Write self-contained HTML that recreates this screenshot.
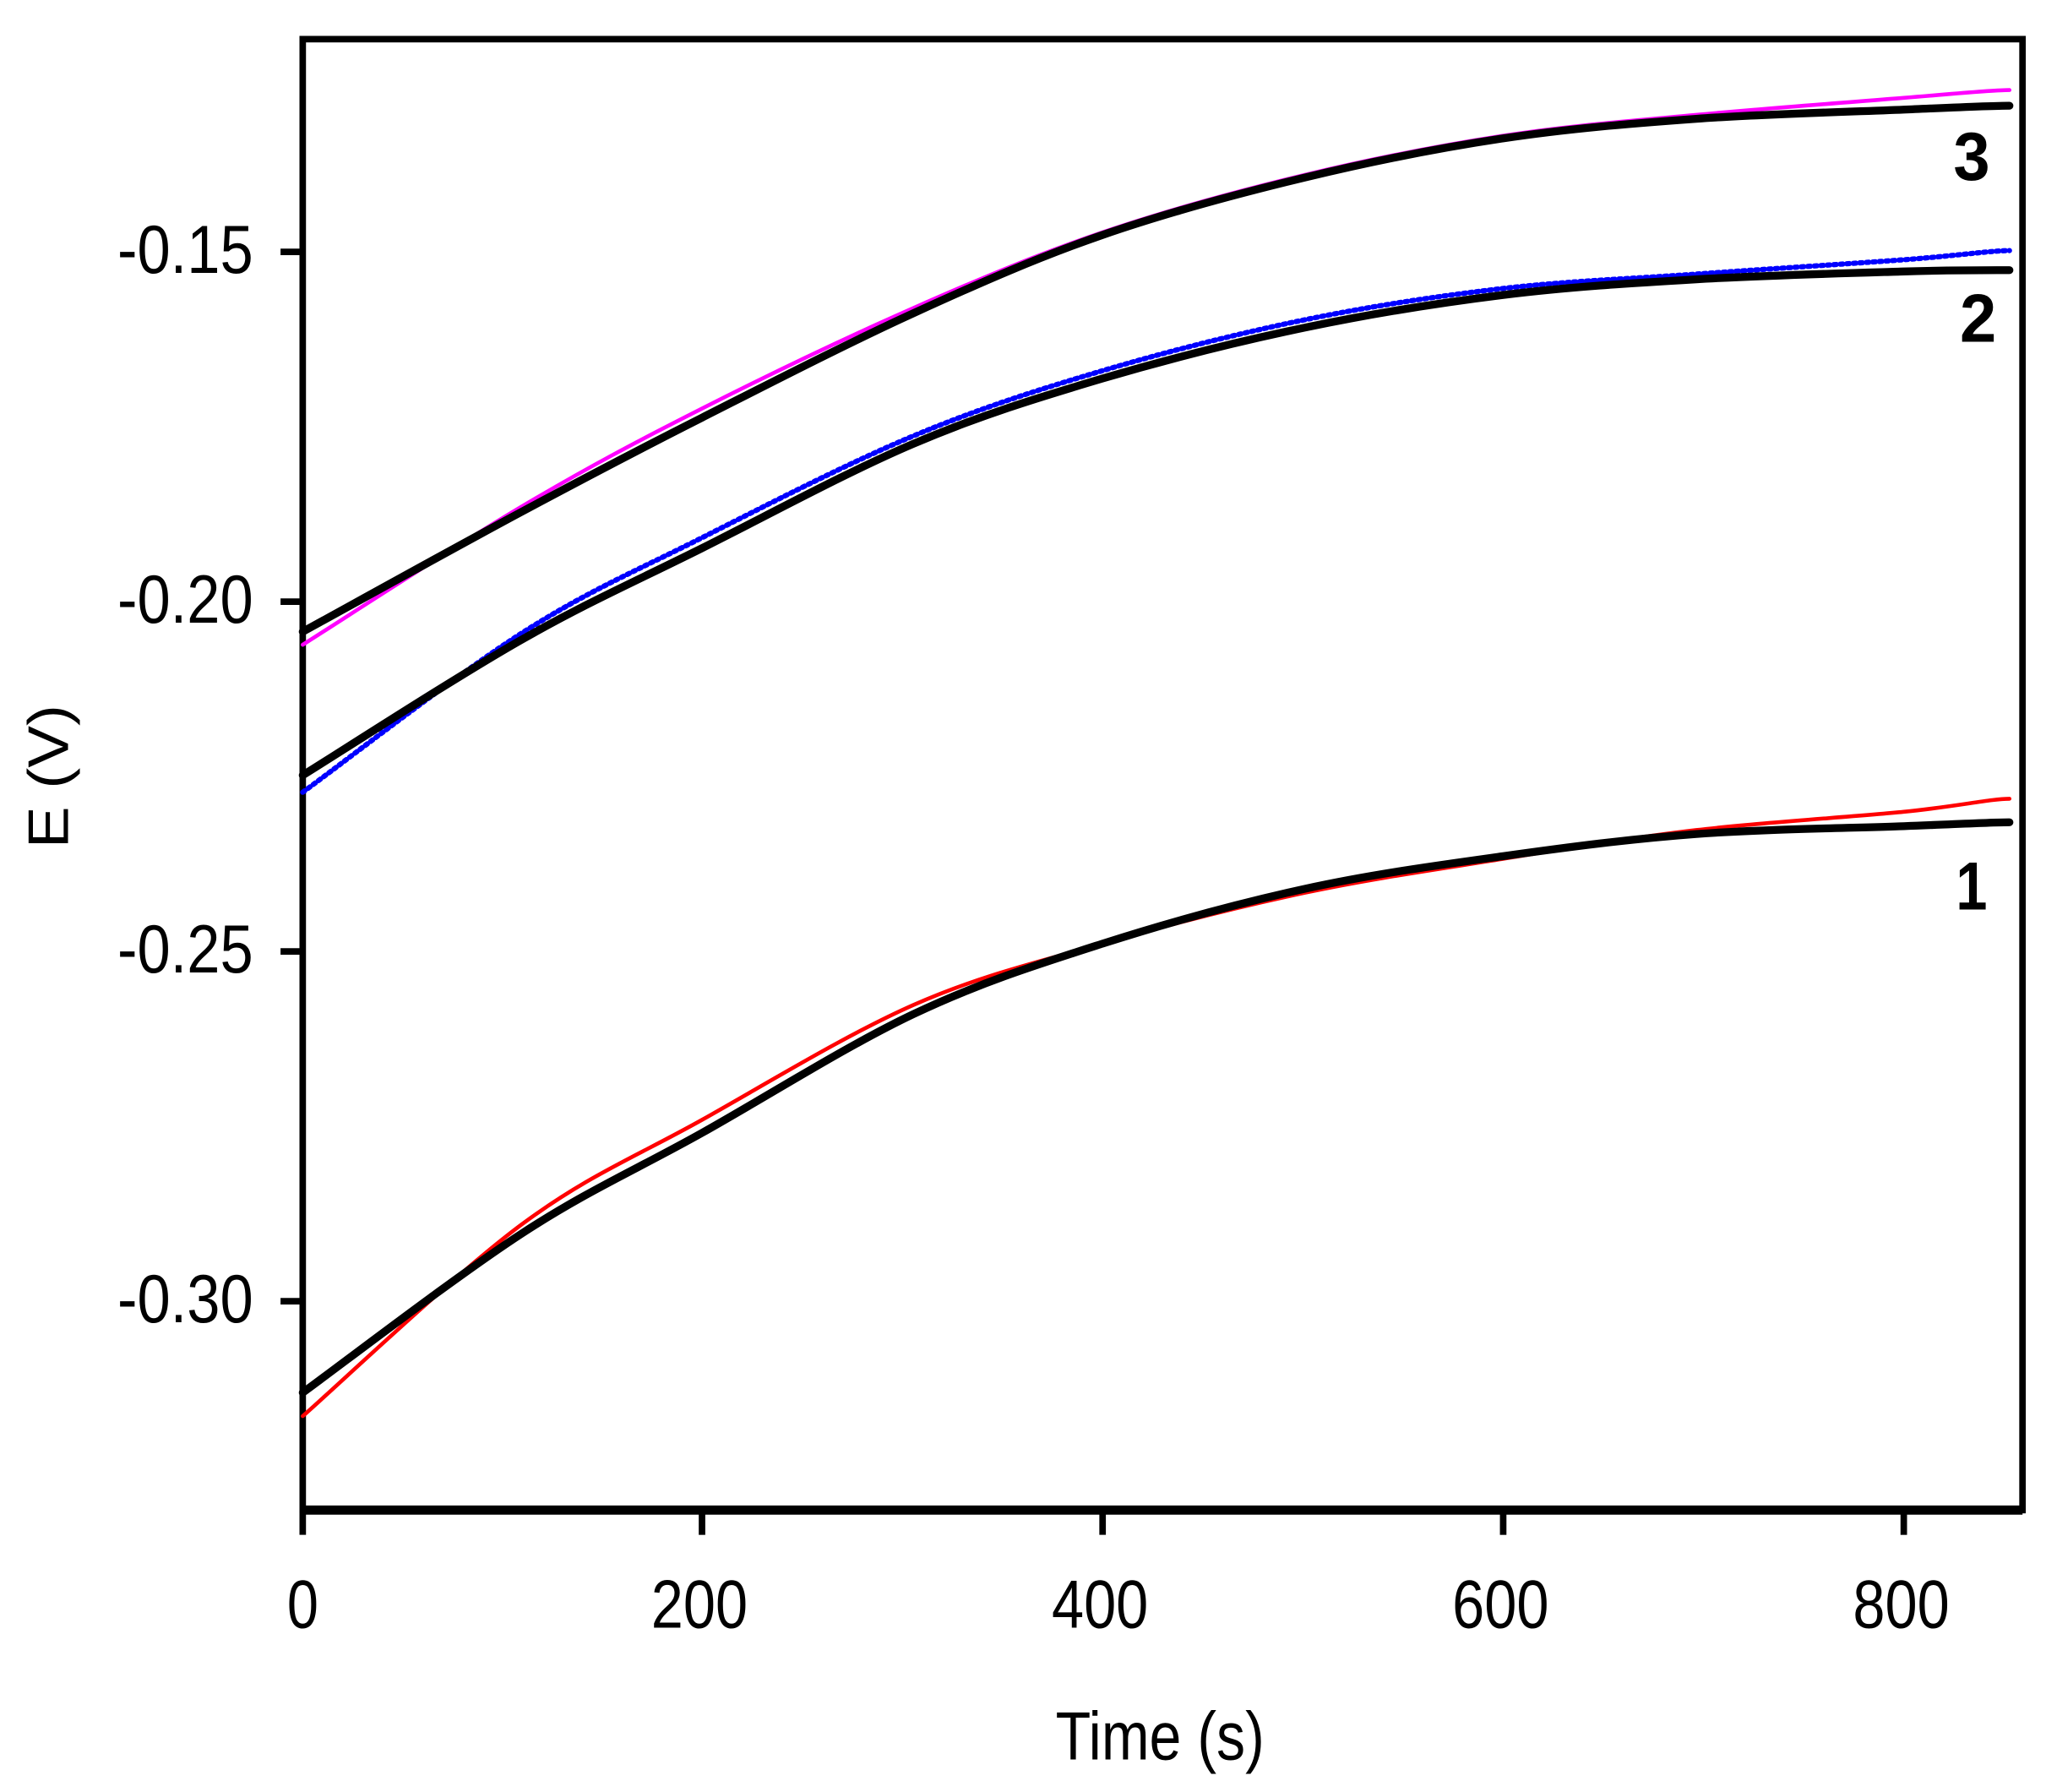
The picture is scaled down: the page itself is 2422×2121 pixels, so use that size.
<!DOCTYPE html>
<html><head><meta charset="utf-8"><style>html,body{margin:0;padding:0;background:#fff}svg{display:block}</style></head>
<body>
<svg width="2422" height="2121" viewBox="0 0 1568 1373" preserveAspectRatio="none" xmlns="http://www.w3.org/2000/svg" font-family="Liberation Sans, sans-serif">
<rect width="1568" height="1373" fill="#fff"/>
<rect x="232" y="30" width="1318" height="1127" fill="none" stroke="#000" stroke-width="5"/>
<line x1="232" y1="1157" x2="1550" y2="1157" stroke="#000" stroke-width="7"/>
<g stroke="#000" stroke-width="5">
<line x1="215" y1="193" x2="232" y2="193"/>
<line x1="215" y1="461" x2="232" y2="461"/>
<line x1="215" y1="729" x2="232" y2="729"/>
<line x1="215" y1="997" x2="232" y2="997"/>
<line x1="232" y1="1157" x2="232" y2="1176"/>
<line x1="538" y1="1157" x2="538" y2="1176"/>
<line x1="845" y1="1157" x2="845" y2="1176"/>
<line x1="1152" y1="1157" x2="1152" y2="1176"/>
<line x1="1459" y1="1157" x2="1459" y2="1176"/>
</g>
<g font-size="52" fill="#000" text-anchor="end">
<text x="194" y="209" textLength="104" lengthAdjust="spacingAndGlyphs">-0.15</text>
<text x="194" y="477" textLength="104" lengthAdjust="spacingAndGlyphs">-0.20</text>
<text x="194" y="745" textLength="104" lengthAdjust="spacingAndGlyphs">-0.25</text>
<text x="194" y="1013" textLength="104" lengthAdjust="spacingAndGlyphs">-0.30</text>
</g>
<g font-size="52" fill="#000" text-anchor="middle">
<text x="232" y="1247" textLength="24" lengthAdjust="spacingAndGlyphs">0</text>
<text x="536" y="1247" textLength="74" lengthAdjust="spacingAndGlyphs">200</text>
<text x="843" y="1247" textLength="74" lengthAdjust="spacingAndGlyphs">400</text>
<text x="1150" y="1247" textLength="74" lengthAdjust="spacingAndGlyphs">600</text>
<text x="1457" y="1247" textLength="74" lengthAdjust="spacingAndGlyphs">800</text>
<text x="889" y="1348" textLength="160" lengthAdjust="spacingAndGlyphs">Time (s)</text>
</g>
<text transform="translate(52,595) rotate(-90)" font-size="44" text-anchor="middle" textLength="110" lengthAdjust="spacingAndGlyphs">E (V)</text>
<g fill="none" stroke-linejoin="round" stroke-linecap="round">
<path stroke="#ff00ff" stroke-width="3" d="M232,494 C260,476.3 349,418.2 400,388 C451,357.8 488,338.3 538,313 C588,287.7 649,258.5 700,236 C751,213.5 795,195 845,178 C895,161 949,146.3 1000,134 C1051,121.7 1102,111.7 1152,104 C1202,96.3 1249,92.8 1300,88 C1351,83.2 1419,78.2 1459,75 C1499,71.8 1526,69 1540,69"/>
<path stroke="#0000ff" stroke-width="4" stroke-dasharray="2,3" d="M232,607 C260,586.7 349,517.5 400,485 C451,452.5 488,437.2 538,412 C588,386.8 649,355.3 700,334 C751,312.7 795,298.8 845,284 C895,269.2 949,255.5 1000,245 C1051,234.5 1102,226.8 1152,221 C1202,215.2 1249,213.7 1300,210 C1351,206.3 1419,202 1459,199 C1499,196 1526,192 1540,192"/>
<path stroke="#ff0000" stroke-width="3" d="M232,1085 C260,1060.5 349,975.8 400,938 C451,900.2 488,886 538,858 C588,830 649,792.5 700,770 C751,747.5 795,737.3 845,723 C895,708.7 949,694.8 1000,684 C1051,673.2 1102,666 1152,658 C1202,650 1249,642 1300,636 C1351,630 1419,626 1459,622 C1499,618 1526,612 1540,612"/>
<path stroke="#000" stroke-width="6" d="M232,484 C260,468.7 349,419.3 400,392 C451,364.7 488,345.3 538,320 C588,294.7 649,263.3 700,240 C751,216.7 795,197.3 845,180 C895,162.7 949,148.3 1000,136 C1051,123.7 1102,113.5 1152,106 C1202,98.5 1249,94.7 1300,91 C1351,87.3 1419,85.7 1459,84 C1499,82.3 1526,81 1540,81"/>
<path stroke="#000" stroke-width="6" d="M232,594 C260,576.7 349,519 400,490 C451,461 488,445 538,420 C588,395 649,361.7 700,340 C751,318.3 795,304.8 845,290 C895,275.2 949,261.7 1000,251 C1051,240.3 1102,232.2 1152,226 C1202,219.8 1249,217 1300,214 C1351,211 1419,209.2 1459,208 C1499,206.8 1526,207 1540,207"/>
<path stroke="#000" stroke-width="6" d="M232,1067 C260,1046.7 349,978.2 400,945 C451,911.8 488,896 538,868 C588,840 649,801.2 700,777 C751,752.8 795,739 845,723 C895,707 949,692.2 1000,681 C1051,669.8 1102,663 1152,656 C1202,649 1249,642.8 1300,639 C1351,635.2 1419,634.5 1459,633 C1499,631.5 1526,630 1540,630"/>
</g>
<g font-size="52" font-weight="bold" fill="#000" text-anchor="middle">
<text x="1511" y="138" textLength="28" lengthAdjust="spacingAndGlyphs">3</text>
<text x="1516" y="262" textLength="28" lengthAdjust="spacingAndGlyphs">2</text>
<text x="1511" y="697" textLength="24" lengthAdjust="spacingAndGlyphs">1</text>
</g>
</svg>
</body></html>
